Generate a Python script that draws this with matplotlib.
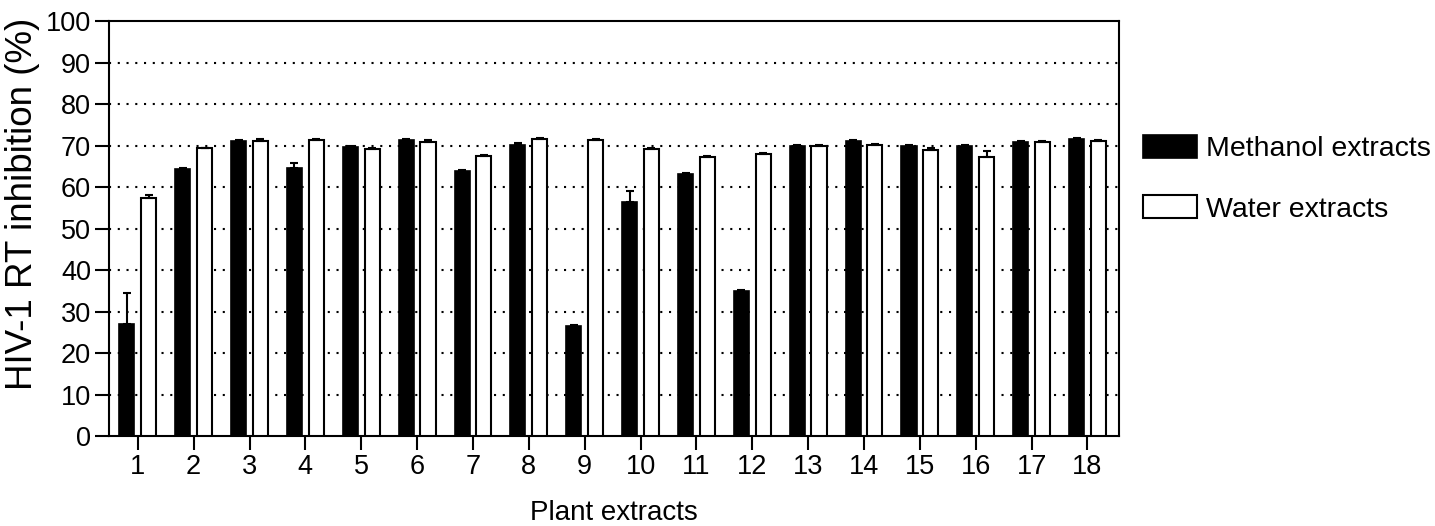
import numpy as np
import matplotlib
matplotlib.use("Agg")
import matplotlib.pyplot as plt

plt.rcParams['font.family'] = ['Liberation Sans', 'DejaVu Sans']

# data
extracts = [str(i) for i in range(1, 19)]
methanol = [27.0, 64.3, 71.2, 64.7, 69.6, 71.4, 63.8, 70.2, 26.6, 56.3,
            63.2, 34.9, 70.0, 71.2, 70.0, 70.0, 70.8, 71.5]
methanol_err = [7.5, 0.3, 0.2, 1.2, 0.2, 0.2, 0.2, 0.3, 0.2, 2.8,
                0.2, 0.3, 0.2, 0.2, 0.2, 0.2, 0.2, 0.2]
water = [57.3, 69.3, 71.1, 71.3, 69.1, 70.9, 67.5, 71.6, 71.3, 69.2,
         67.3, 68.0, 70.0, 70.1, 69.0, 67.3, 70.8, 71.1]
water_err = [0.8, 0.2, 0.4, 0.3, 0.4, 0.4, 0.3, 0.3, 0.3, 0.3,
             0.3, 0.3, 0.2, 0.3, 0.3, 1.5, 0.2, 0.3]
yticks = list(range(0, 101, 10))

fig = plt.figure(figsize=(14.35, 5.26), dpi=100)
ax = fig.add_axes([0.076, 0.171, 0.704, 0.789])

x = np.arange(1, len(extracts) + 1)
w = 0.27
off = 0.195

ax.bar(x - off, methanol, w, color='black', edgecolor='black', linewidth=1.2,
       yerr=[np.zeros(len(x)), methanol_err], capsize=3,
       error_kw=dict(ecolor='black', elinewidth=1.5, capthick=1.5),
       label='Methanol extracts', zorder=3)
ax.bar(x + off, water, w, color='white', edgecolor='black', linewidth=1.5,
       yerr=[np.zeros(len(x)), water_err], capsize=3,
       error_kw=dict(ecolor='black', elinewidth=1.5, capthick=1.5),
       label='Water extracts', zorder=3)

# dotted grid behind the bars
for v in yticks[1:-1]:
    ax.axhline(v, color='black', linestyle=(0, (1, 3.2)), linewidth=1.5, zorder=1)

ax.set_xlim(0.486, 18.57)
ax.set_ylim(0, 100)
ax.set_xticks(x)
ax.set_xticklabels(extracts)
ax.set_yticks(yticks)
ax.tick_params(axis='both', direction='out', length=10, width=1.5, labelsize=19.5, pad=3)
for s in ax.spines.values():
    s.set_linewidth(1.5)

ax.set_xlabel('Plant extracts', fontsize=20, labelpad=14)
ax.set_ylabel('HIV-1 RT inhibition (%)', fontsize=26.5, labelpad=4)
ax.yaxis.label.set_y(0.56)

leg = ax.legend(loc='center left', bbox_to_anchor=(0.7965, 0.66), bbox_transform=fig.transFigure,
                frameon=False, fontsize=20.5, handlelength=1.9, handleheight=0.88,
                handletextpad=0.3, labelspacing=1.15, borderpad=0, borderaxespad=0)

fig.savefig('out.png', dpi=100)
